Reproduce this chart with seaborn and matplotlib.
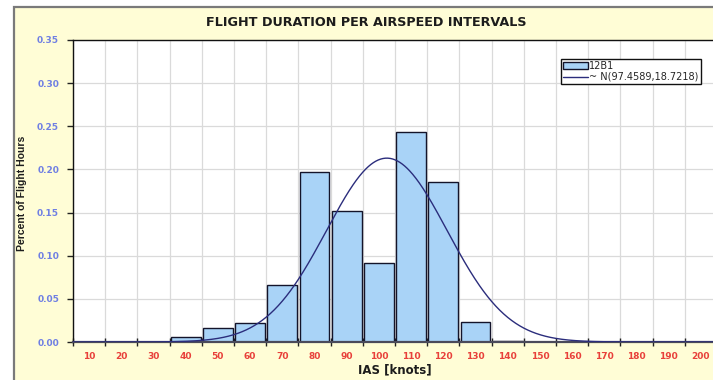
import numpy as np
import pandas as pd
import seaborn as sns
import matplotlib
matplotlib.use("Agg")
import matplotlib.pyplot as plt
from matplotlib.patches import Rectangle
from matplotlib.ticker import MultipleLocator, FixedLocator, NullFormatter

# Airspeed interval labels (upper bound of each 10-knot bin, knots)
ias_labels = [10, 20, 30, 40, 50, 60, 70, 80, 90, 100,
              110, 120, 130, 140, 150, 160, 170, 180, 190, 200]
# Fraction of flight hours spent in each interval
hours_fraction = [0.0, 0.0, 0.0, 0.0055, 0.016, 0.0225, 0.0665, 0.197, 0.152, 0.092,
                  0.2435, 0.1855, 0.0228, 0.001, 0.0, 0.0, 0.0, 0.0, 0.0, 0.0]
series_name = "12B1"
fit_mean = 97.4589
fit_sd = 18.7218
bin_width = 10

BG = "#FFFDD6"
BAR = "#A9D3F7"
EDGE = "#14142a"
CURVE = "#2B2D7C"

sns.set_theme(style="white")
plt.rcParams["font.family"] = ["DejaVu Sans"]

fig = plt.figure(figsize=(7.13, 3.8), dpi=100, facecolor="white")
W, H = 713, 380

# chart area panel
fig.patches.append(Rectangle((14 / W, -0.1), 1.2, 1 - 7 / H + 0.1,
                             transform=fig.transFigure, facecolor=BG,
                             edgecolor="#7a7a7a", linewidth=1.6, zorder=-10))

ax = fig.add_axes([73 / W, 1 - 342 / H, (717 - 73) / W, (342 - 40) / H])
ax.set_facecolor("white")

df = pd.DataFrame({
    "center": [v - bin_width / 2 for v in ias_labels],
    "frac": hours_fraction,
})
sns.barplot(data=df, x="center", y="frac", native_scale=True, width=0.93,
            color=BAR, edgecolor=EDGE, linewidth=1.0, saturation=1,
            errorbar=None, label=series_name, ax=ax, zorder=2)

# fitted normal curve scaled to bin width
speed = np.linspace(0, 200, 801)
dens = bin_width * np.exp(-0.5 * ((speed - fit_mean) / fit_sd) ** 2) / (fit_sd * np.sqrt(2 * np.pi))
sns.lineplot(x=speed, y=dens, color=CURVE, linewidth=1.0,
             label=f"~ N({fit_mean},{fit_sd})", ax=ax, zorder=3)

ax.set_xlim(0, 200)
ax.set_ylim(0, 0.35)

# gridlines at bin boundaries and every 0.05
ax.xaxis.set_major_locator(MultipleLocator(10))
ax.xaxis.set_major_formatter(NullFormatter())
ax.xaxis.set_minor_locator(FixedLocator(df["center"].tolist()))
ax.set_xticklabels([str(v) for v in ias_labels], minor=True)
ax.yaxis.set_major_locator(MultipleLocator(0.05))
ax.yaxis.set_major_formatter(matplotlib.ticker.FormatStrFormatter("%.2f"))
ax.grid(True, which="major", color="#dadada", linewidth=0.9, zorder=0)
ax.set_axisbelow(True)

ax.tick_params(axis="x", which="major", direction="inout", length=6, width=1,
               color="#222222", bottom=True)
ax.tick_params(axis="x", which="minor", length=0, pad=7, labelsize=6.5,
               labelcolor="#E8403A")
ax.tick_params(axis="y", which="major", direction="out", length=4, width=1,
               color="#222222", left=True, labelsize=6.5, labelcolor="#6F7FE3", pad=6)
for lab in ax.get_xticklabels(minor=True) + ax.get_yticklabels():
    lab.set_fontweight("bold")

for side in ("top", "left"):
    ax.spines[side].set_visible(True)
    ax.spines[side].set_color("#111111")
    ax.spines[side].set_linewidth(1.0)
ax.spines["bottom"].set_color("#4a4a5a")
ax.spines["bottom"].set_linewidth(1.6)
ax.spines["right"].set_visible(False)
ax.set_xlabel("")
ax.set_ylabel("")

handles, labels = ax.get_legend_handles_labels()
order = [labels.index(series_name), labels.index(f"~ N({fit_mean},{fit_sd})")]
leg = ax.legend([handles[i] for i in order], [labels[i] for i in order],
                loc="upper left", bbox_to_anchor=(561 / W, 1 - 59 / H),
                bbox_transform=fig.transFigure, frameon=True, fancybox=False,
                fontsize=7, handlelength=2.6, handleheight=0.6,
                borderpad=0.2, labelspacing=0.1, handletextpad=0.1,
                borderaxespad=0)
leg.get_frame().set_edgecolor("#111111")
leg.get_frame().set_linewidth(1.0)
leg.get_frame().set_facecolor("white")
leg.get_frame().set_alpha(1)

fig.text(366 / W, 1 - 23 / H, "FLIGHT DURATION PER AIRSPEED INTERVALS",
         ha="center", va="center", fontsize=9.2, fontweight="bold", color="#1c1c1c")
fig.text(22 / W, 1 - 193 / H, "Percent of Flight Hours", rotation=90,
         ha="center", va="center", fontsize=7.5, fontweight="bold", color="#1c1c1c",
         family="Liberation Sans")
fig.text(395 / W, 1 - 370 / H, "IAS [knots]", ha="center", va="center",
         fontsize=8.5, fontweight="bold", color="#1c1c1c")

fig.savefig("out.png", dpi=100, facecolor=fig.get_facecolor())
